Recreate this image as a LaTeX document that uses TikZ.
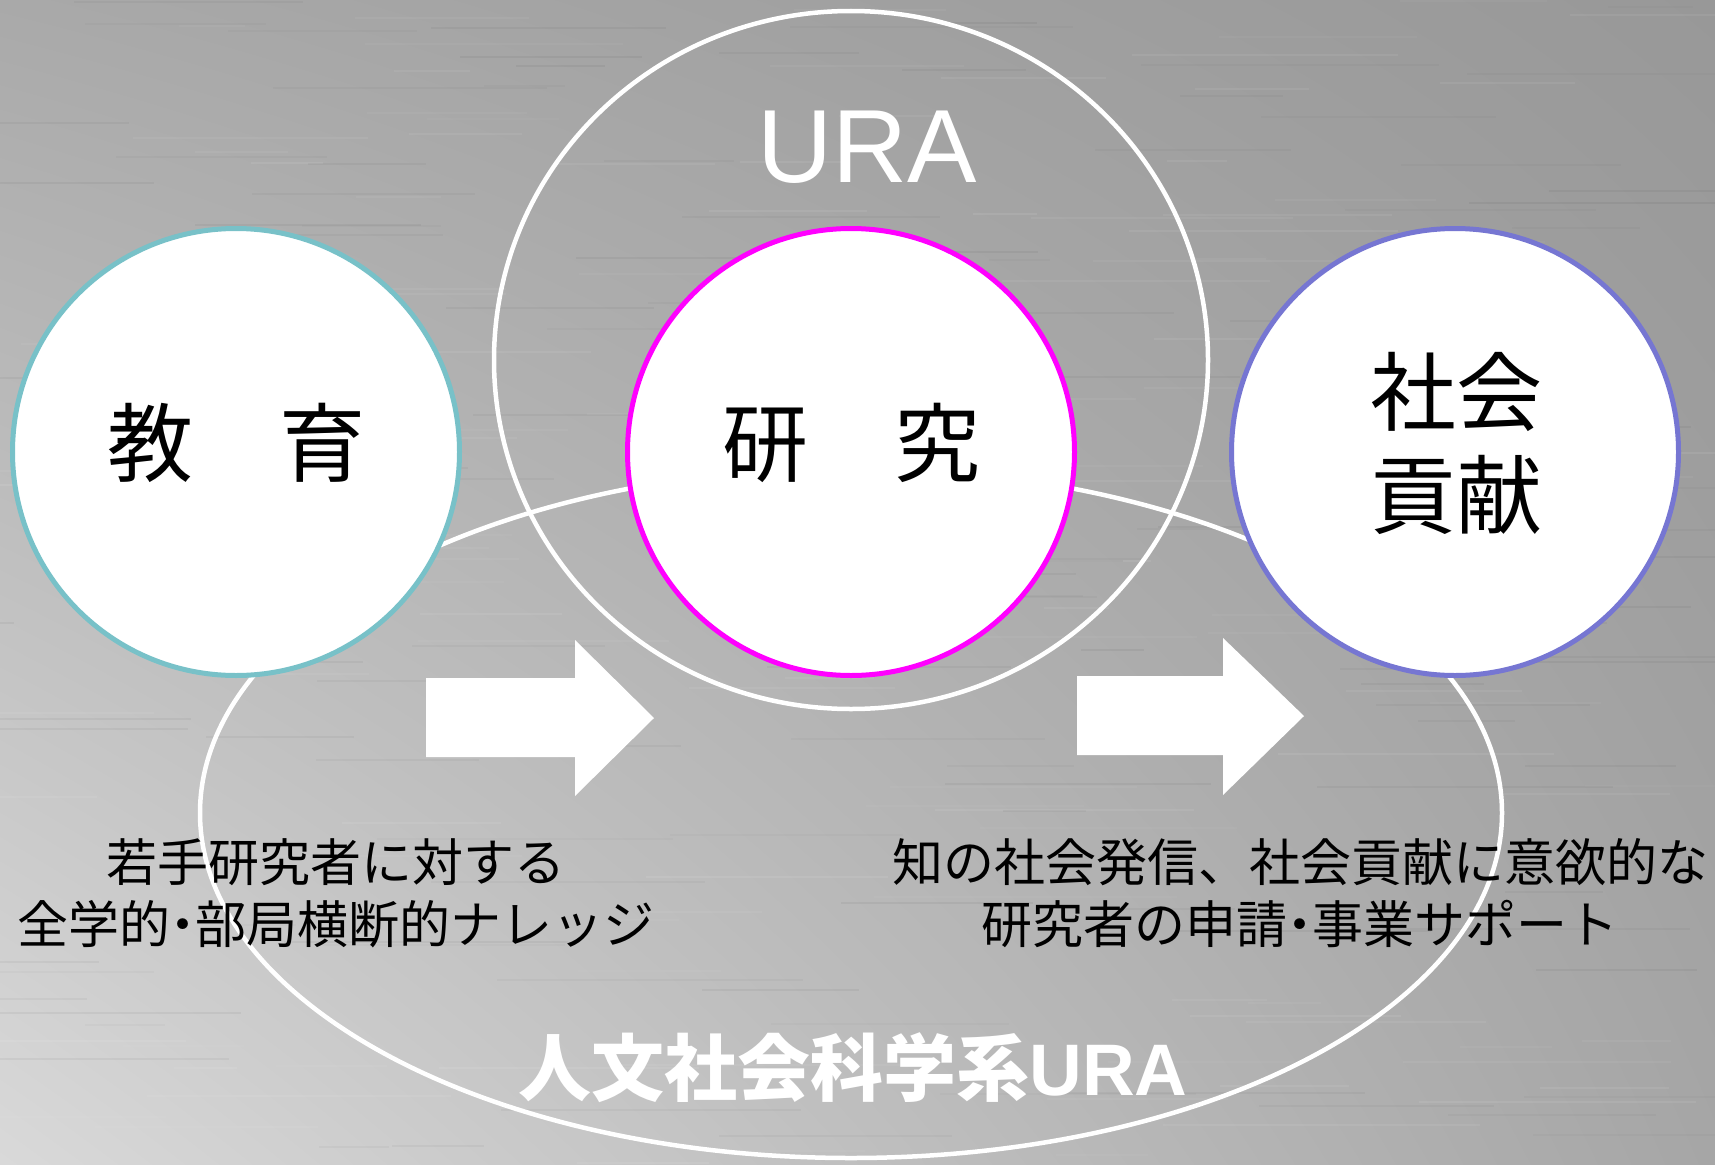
\documentclass[tikz,border=0pt]{standalone}
\usepackage{fontspec}
\newfontfamily\jp{Noto Sans CJK JP}
\newfontfamily\arialx{Liberation Sans}
\usetikzlibrary{shapes.geometric,shadings}
\definecolor{tealc}{HTML}{78C1C8}
\definecolor{magc}{HTML}{FF00FF}
\definecolor{purc}{HTML}{7676D2}
\definecolor{bgUL}{HTML}{A9A9A9}
\definecolor{bgUR}{HTML}{989898}
\definecolor{bgLL}{HTML}{D9D9D9}
\definecolor{bgLR}{HTML}{A6A6A6}
\newcommand{\nakaguro}{\kern-0.25em・\kern-0.25em}
\begin{document}
\begin{tikzpicture}[x=1pt,y=-1pt,
  whiteline/.style={draw=white, line width=4.5pt},
  topic/.style={circle, fill=white, line width=5pt, minimum size=447pt, inner sep=0pt},
  topictext/.style={align=center, inner sep=0pt, text=black, font=\jp\fontsize{86}{103}\selectfont},
  blockarrow/.style={fill=white, draw=none},
  desc/.style={align=center, inner sep=0pt, text=black, font=\jp\fontsize{51}{62}\selectfont},
  whitetitle/.style={inner sep=0pt, text=white},
  streak/.style={line width=2pt}
]
\useasboundingbox (0,0) rectangle (1715,1164);
\shade[upper left=bgUL, upper right=bgUR, lower left=bgLL, lower right=bgLR] (0,0) rectangle (1715,1164);

% brushed-metal streaks
\pgfmathsetseed{11}
\foreach \i in {1,...,260}{
  \pgfmathsetmacro{\sy}{rnd*1164}
  \pgfmathsetmacro{\sx}{rnd*1715-100}
  \pgfmathsetmacro{\sl}{60+rnd*260}
  \pgfmathsetmacro{\so}{0.03+rnd*0.05}
  \pgfmathparse{rnd>0.5?1:0}
  \ifnum\pgfmathresult=1
    \draw[streak, white, opacity=\so] (\sx,\sy) -- ++(\sl,0);
  \else
    \draw[streak, black, opacity=\so*0.6] (\sx,\sy) -- ++(\sl,0);
  \fi
}

% outer ellipses
\node[ellipse, whiteline, minimum width=1302pt, minimum height=690pt, inner sep=0pt] (hss) at (851,813) {};
\node[ellipse, whiteline, minimum width=714pt, minimum height=698pt, inner sep=0pt] (ura) at (851,360) {};

% three circles
\node[topic, draw=tealc] (edu) at (236,452) {};
\node[topic, draw=magc] (res) at (851,452) {};
\node[topic, draw=purc] (soc) at (1455,452) {};

% circle texts
\node[topictext] (edut) at (236,443) {教　育};
\node[topictext] (rest) at (851,443) {研　究};
\node[topictext] (soct) at (1456,443) {社会\\貢献};

% block arrows
\fill[blockarrow] (426,678) -- (575,678) -- (575,640) -- (654,718) -- (575,796) -- (575,757) -- (426,757) -- cycle;
\fill[blockarrow] (1077,676) -- (1223,676) -- (1223,638) -- (1304,716) -- (1223,795) -- (1223,755) -- (1077,755) -- cycle;

% titles
\node[whitetitle, font=\arialx\fontsize{104}{104}\selectfont] (urat) at (867,147) {URA};
\node[whitetitle, font=\jp\bfseries\fontsize{73}{73}\selectfont] (hsst) at (853,1068) {人文社会科学系{\arialx\bfseries URA}};

% descriptions
\node[desc] (ldesc) at (336,893) {若手研究者に対する\\全学的\nakaguro 部局横断的ナレッジ};
\node[desc] (rdesc) at (1300,893) {知の社会発信、社会貢献に意欲的な\\研究者の申請\nakaguro 事業サポート};
\end{tikzpicture}
\end{document}
